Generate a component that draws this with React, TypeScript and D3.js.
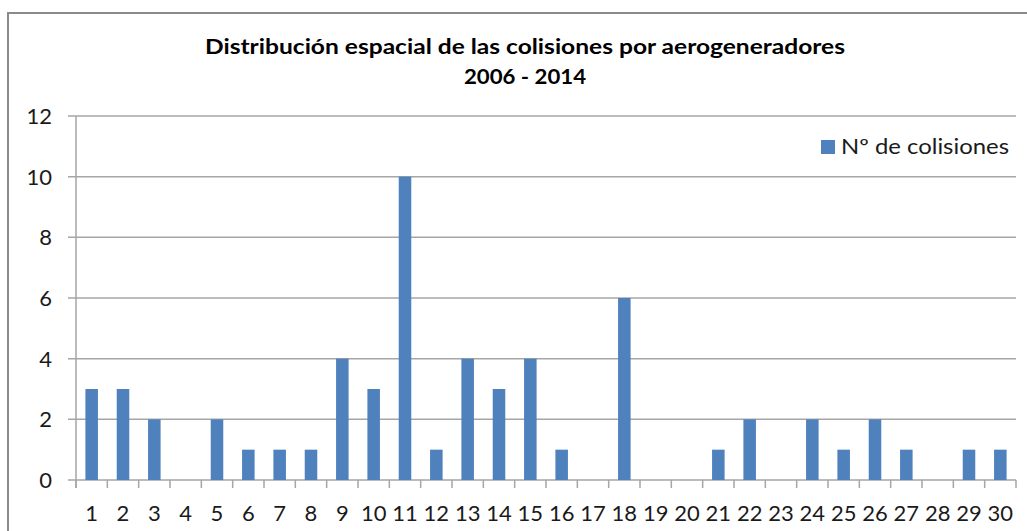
import React from "react";
import * as d3 from "d3";

// values
const turbines = d3.range(1, 31).map(String);
const collisions = [3, 3, 2, 0, 2, 1, 1, 1, 4, 3, 10, 1, 4, 3, 4, 1, 0, 6, 0, 0, 1, 2, 0, 2, 1, 2, 1, 0, 1, 1];
const yTicks = [0, 2, 4, 6, 8, 10, 12];
const titleLines = ["Distribución espacial de las colisiones por aerogeneradores", "2006 - 2014"];
const seriesName = "Nº de colisiones";

const W = 1027, H = 531;
const font = "Lato, 'Open Sans', 'DejaVu Sans', sans-serif";

export default function App() {
  const margin = { top: 116, right: 11, bottom: 51, left: 76 };
  const x = d3.scaleBand()
    .domain(turbines)
    .range([margin.left, W - margin.right])
    .paddingInner(0.6)
    .paddingOuter(0.3);
  const y = d3.scaleLinear().domain([0, 12]).range([H - margin.bottom, margin.top]);
  const step = x.step();
  const bounds = turbines.map((t) => x(t)! + x.bandwidth() / 2 - step / 2);
  bounds.push(bounds[bounds.length - 1] + step);

  return (
    <svg width={W} height={H} style={{ position: "absolute", left: 0, top: 0 }} fontFamily={font}>
      <rect x={0} y={0} width={W} height={H} fill="#fff" />
      <rect x={8} y={13} width={W + 10} height={H} fill="none" stroke="#8a8a8a" strokeWidth={2} />

      {titleLines.map((t, i) => (
        <text key={t} x={525} y={54 + i * 30} textAnchor="middle" fontWeight="bold" fontSize={21}
          textLength={i === 0 ? 640 : 122} lengthAdjust="spacingAndGlyphs" fill="#000">{t}</text>
      ))}

      {/* gridlines and y ticks */}
      {yTicks.map((v) => (
        <g key={v}>
          <line x1={68} x2={W - margin.right} y1={y(v)} y2={y(v)} stroke="#a6a6a6" strokeWidth={1.5} />
          <text x={52} y={y(v) + 8} textAnchor="end" fontSize={22} fill="#1a1a1a">{v}</text>
        </g>
      ))}
      <line x1={margin.left} x2={margin.left} y1={y(12)} y2={y(0) + 8} stroke="#a6a6a6" strokeWidth={1.5} />

      {/* bars */}
      {collisions.map((v, i) => v > 0 && (
        <rect key={i} x={x(turbines[i])} y={y(v)} width={x.bandwidth()} height={y(0) - y(v)} fill="#4f81bd" />
      ))}

      {/* x ticks */}
      {bounds.map((b, i) => (
        <line key={i} x1={b} x2={b} y1={y(0)} y2={y(0) + 8} stroke="#a6a6a6" strokeWidth={1.5} />
      ))}
      {turbines.map((t) => (
        <text key={t} x={x(t)! + x.bandwidth() / 2} y={521} textAnchor="middle" fontSize={22} fill="#1a1a1a">{t}</text>
      ))}

      {/* legend */}
      <rect x={821} y={140} width={14} height={14} fill="#4f81bd" />
      <text x={841} y={154} fontSize={21} textLength={168} lengthAdjust="spacingAndGlyphs" fill="#1a1a1a">{seriesName}</text>
    </svg>
  );
}
